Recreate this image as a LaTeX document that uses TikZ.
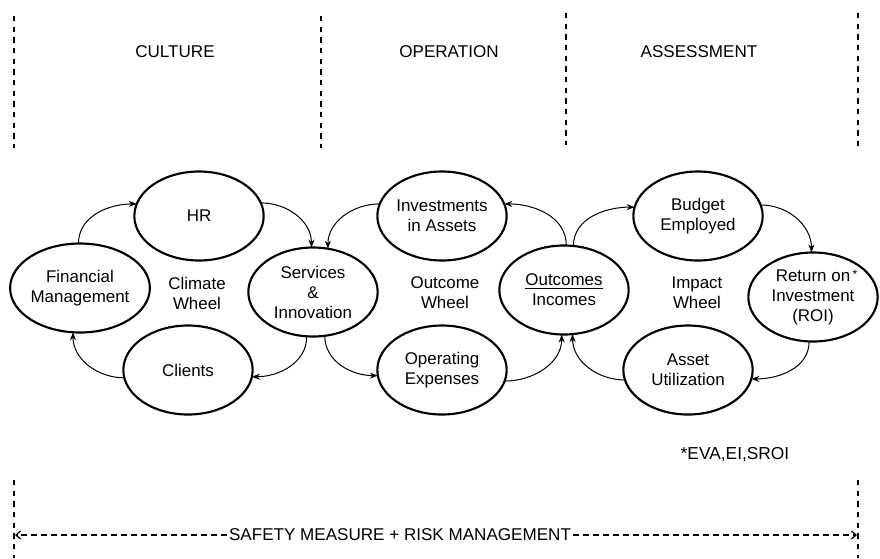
\documentclass[tikz,border=0pt]{standalone}
\usepackage{fontspec}
\setmainfont{Liberation Sans}
\usetikzlibrary{arrows.meta,shapes.geometric}
\begin{document}
\begin{tikzpicture}[x=0.75pt,y=-0.75pt,
  wheel/.style={ellipse,draw,line width=1.6pt,minimum width=97pt,minimum height=66.75pt,inner sep=0pt,outer sep=0pt,align=center,font=\fontsize{12.7}{15}\selectfont},
  lbl/.style={align=center,font=\fontsize{12.7}{15}\selectfont},
  head/.style={font=\fontsize{12.8}{14}\selectfont},
  flow/.style={line width=0.75pt,-{Stealth[length=6pt,width=4.5pt]}},
  sepline/.style={line width=1pt,dash pattern=on 4pt off 4pt},
  riskline/.style={line width=0.9pt,dash pattern=on 4.5pt off 3pt,-{Straight Barb[length=3.5pt,width=6pt]}}]
\useasboundingbox (0,0) rectangle (880,558);

% separators
\draw[sepline] (14,16) -- (14,148);
\draw[sepline] (321,16) -- (321,148);
\draw[sepline] (566,13) -- (566,145);
\draw[sepline] (858,13) -- (858,147);
\draw[sepline] (14,480) -- (14,558);
\draw[sepline] (858,480) -- (858,558);

% headings
\node[head] (culture) at (175,52) {CULTURE};
\node[head] (operation) at (449,52) {OPERATION};
\node[head] (assessment) at (699,52) {ASSESSMENT};

% ellipses
\node[wheel] (hr) at (199,216) {HR};
\node[wheel] (fm) at (80,288) {Financial\\Management};
\node[wheel] (cl) at (188,370) {Clients};
\node[wheel] (sv) at (313,292) {Services\\\&\\Innovation};
\node[wheel] (inv) at (442,216) {Investments\\in Assets};
\node[wheel] (oe) at (442,370) {Operating\\Expenses};
\node[wheel] (out) at (564,290) {\underline{Outcomes}\\Incomes};
\node[wheel] (bud) at (698,216) {Budget\\Employed};
\node[wheel] (roi) at (813,297) {Return on\\Investment\\(ROI)};
\node[wheel] (au) at (688,370) {Asset\\Utilization};
\node[font=\fontsize{9}{9}\selectfont,inner sep=0pt] (star) at (855,274) {*};

% wheel labels
\node[lbl] (cw) at (197,293) {Climate\\Wheel};
\node[lbl] (ow) at (445,293) {Outcome\\Wheel};
\node[lbl] (iw) at (697,293) {Impact\\Wheel};

% climate wheel
\draw[flow] (fm.92) to[out=90,in=180] (hr.169);
\draw[flow] (hr.12) to[out=0,in=90] (sv.92);
\draw[flow] (sv.262) to[out=270,in=0] (cl.354);
\draw[flow] (cl.187) to[out=180,in=270] (fm.261);

% outcome wheel
\draw[flow] (inv.169) to[out=180,in=90] (sv.71);
\draw[flow] (sv.285) to[out=270,in=180] (oe.185);
\draw[flow] (oe.350) to[out=0,in=270] (out.267);
\draw[flow] (out.87) to[out=90,in=0] (inv.11);

% impact wheel
\draw[flow] (out.78) to[out=90,in=180] (bud.172);
\draw[flow] (bud.10) to[out=0,in=90] (roi.92);
\draw[flow] (roi.265) to[out=270,in=0] (au.352);
\draw[flow] (au.189) to[out=180,in=270] (out.281);

% footnote
\node[font=\fontsize{13}{15}\selectfont] (eva) at (735,455) {*EVA,EI,SROI};

% safety line
\node[font=\fontsize{12.8}{15}\selectfont,inner sep=1pt] (safety) at (400,535) {SAFETY MEASURE + RISK MANAGEMENT};
\coordinate (sl) at (15,535);
\coordinate (sr) at (857,535);
\draw[riskline] (safety.west) -- (sl);
\draw[riskline] (safety.east) -- (sr);
\end{tikzpicture}
\end{document}
